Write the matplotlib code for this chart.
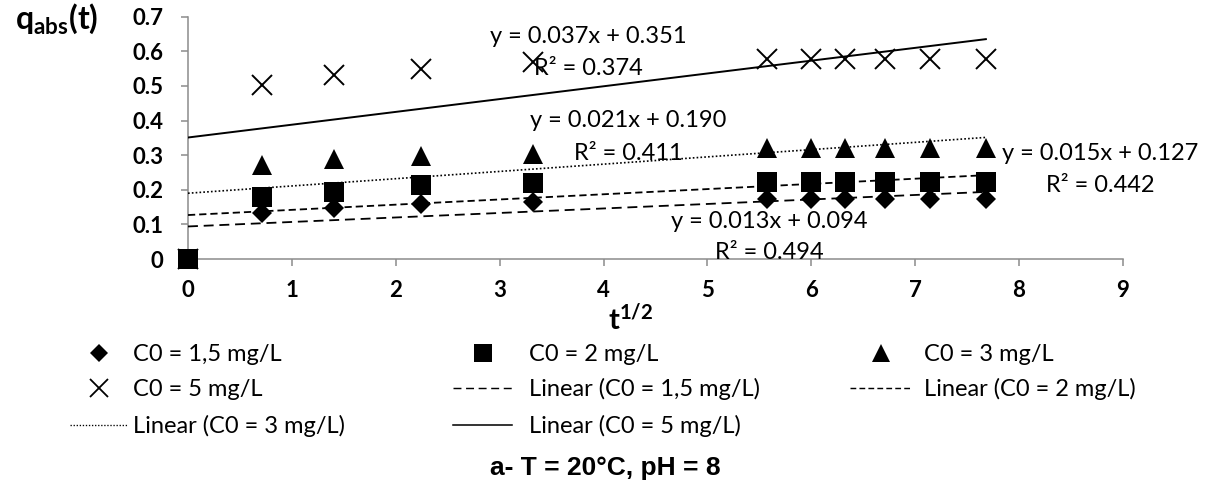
import numpy as np
import matplotlib
matplotlib.use("Agg")
import matplotlib.pyplot as plt
from matplotlib.lines import Line2D

# ---------------- data ----------------
sqrt_t = [0, 0.71, 1.41, 2.24, 3.32, 5.57, 6.00, 6.32, 6.71, 7.14, 7.68]
q_c15 = [0, 0.132, 0.146, 0.159, 0.166, 0.172, 0.172, 0.172, 0.172, 0.172, 0.172]
q_c2 = [0, 0.180, 0.194, 0.214, 0.220, 0.223, 0.223, 0.223, 0.223, 0.223, 0.223]
q_c3 = [0, 0.272, 0.288, 0.299, 0.302, 0.321, 0.321, 0.321, 0.321, 0.321, 0.321]
q_c5 = [0, 0.503, 0.532, 0.549, 0.570, 0.577, 0.577, 0.577, 0.577, 0.577, 0.577]
series_labels = ["C0 = 1,5 mg/L", "C0 = 2 mg/L", "C0 = 3 mg/L", "C0 = 5 mg/L"]
fit_slopes = [0.013, 0.015, 0.021, 0.037]
fit_intercepts = [0.094, 0.127, 0.190, 0.351]
fit_r2 = [0.494, 0.442, 0.411, 0.374]
x_ticks = [0, 1, 2, 3, 4, 5, 6, 7, 8, 9]
y_ticks = [0, 0.1, 0.2, 0.3, 0.4, 0.5, 0.6, 0.7]
y_tick_labels = ["0", "0.1", "0.2", "0.3", "0.4", "0.5", "0.6", "0.7"]
title_text = "a- T = 20°C, pH = 8"

# ---------------- style ----------------
plt.rcParams["font.family"] = ["Lato", "DejaVu Sans"]
plt.rcParams["mathtext.fontset"] = "custom"
plt.rcParams["mathtext.bf"] = "Lato:bold"
plt.rcParams["mathtext.rm"] = "Lato"
plt.rcParams["mathtext.it"] = "Lato:italic"

W, H = 1206, 484
def fx(px):
    return px / W
def fy(py):
    return 1 - py / H

fig = plt.figure(figsize=(W / 100, H / 100), dpi=100)
ax = fig.add_axes([fx(188), fy(259), (1123 - 188) / W, (259 - 16.7) / H])
ax.set_xlim(0, 9)
ax.set_ylim(0, 0.7)

axis_grey = "#8c8c8c"
for s in ["top", "right"]:
    ax.spines[s].set_visible(False)
for s in ["left", "bottom"]:
    ax.spines[s].set_color(axis_grey)
    ax.spines[s].set_linewidth(1.1)
ax.set_xticks(x_ticks)
ax.set_yticks(y_ticks)
ax.set_yticklabels(y_tick_labels)
ax.tick_params(axis="both", direction="out", length=5, width=1.1, color=axis_grey,
               labelsize=16, labelcolor="black")
ax.tick_params(axis="y", pad=13)
ax.tick_params(axis="x", pad=10)
for lab in ax.get_xticklabels() + ax.get_yticklabels():
    lab.set_fontweight("bold")

series_q = [q_c15, q_c2, q_c3, q_c5]
markers = ["D", "s", "^", "x"]
msizes = [10.2, 14.4, 14.4, 14.0]
fit_styles = [(0, (5.5, 3.2)), (0, (4, 2.2)), (0, (1, 1.3)), "-"]
fit_lw = [1.3, 1.3, 1.2, 1.4]

x = np.array(sqrt_t)
for q, m, ms in zip(series_q, markers, msizes):
    if m == "x":
        ax.plot(x, q, linestyle="none", marker=m, ms=ms, mew=1.4, color="black",
                clip_on=False, zorder=3)
    else:
        ax.plot(x, q, linestyle="none", marker=m, ms=ms, color="black",
                mec="black", mew=0, clip_on=False, zorder=3 if m != "s" else 4)

xfit = np.array([x.min(), x.max()])
for a, b, ls, lw in zip(fit_slopes, fit_intercepts, fit_styles, fit_lw):
    ax.plot(xfit, a * xfit + b, linestyle=ls, lw=lw, color="black", zorder=5)

# trendline equations (center x px, baseline px of line1, line2)
eq_pos = [(769, 228, 259), (1100, 160, 192), (628, 127, 160), (588, 43, 75)]
for a, b, r2, (cx, b1, b2) in zip(fit_slopes, fit_intercepts, fit_r2, eq_pos):
    fig.text(fx(cx), fy(b1), f"y = {a:.3f}x + {b:.3f}", ha="center", va="baseline",
             fontsize=17, color="black", zorder=6)
    fig.text(fx(cx), fy(b2), f"R² = {r2:.3f}", ha="center", va="baseline",
             fontsize=17, color="black", zorder=6)

# axis titles
fig.text(fx(15), fy(29), r"$\mathbf{q_{abs}(t)}$", ha="left", va="baseline", fontsize=23)
fig.text(fx(608), fy(330), r"$\mathbf{t^{1/2}}$", ha="left", va="baseline", fontsize=21)
fig.text(fx(490), fy(475), title_text, ha="left", va="baseline", fontsize=19,
         fontweight="bold", family=["Liberation Sans", "DejaVu Sans"])

# legend (drawn manually as Excel places it: 3 columns, row-major)
fit_labels = [f"Linear ({s})" for s in series_labels]
entries = [
    ("marker", 0, series_labels[0]), ("marker", 1, series_labels[1]), ("marker", 2, series_labels[2]),
    ("marker", 3, series_labels[3]), ("line", 0, fit_labels[0]), ("line", 1, fit_labels[1]),
    ("line", 2, fit_labels[2]), ("line", 3, fit_labels[3]),
]
col_text_x = [133, 529, 924]
col_handle = [(70, 128), (453, 512), (850, 912)]
row_base = [361, 396, 433]
for i, (kind, si, lab) in enumerate(entries):
    r, c = divmod(i, 3)
    yb = row_base[r]
    ym = yb - 8
    h0, h1 = col_handle[c]
    if kind == "marker":
        m = markers[si]
        ms = msizes[si] * 0.9
        ln = Line2D([fx((h0 + h1) / 2)], [fy(ym)], transform=fig.transFigure,
                    marker=m, ms=ms, color="black", linestyle="none",
                    mew=1.3 if m == "x" else 0)
    else:
        ln = Line2D([fx(h0), fx(h1)], [fy(ym), fy(ym)], transform=fig.transFigure,
                    linestyle=fit_styles[si], lw=fit_lw[si] * 0.8, color="black")
    fig.add_artist(ln)
    fig.text(fx(col_text_x[c]), fy(yb), lab, ha="left", va="baseline", fontsize=17)

fig.savefig("out.png", dpi=100)
